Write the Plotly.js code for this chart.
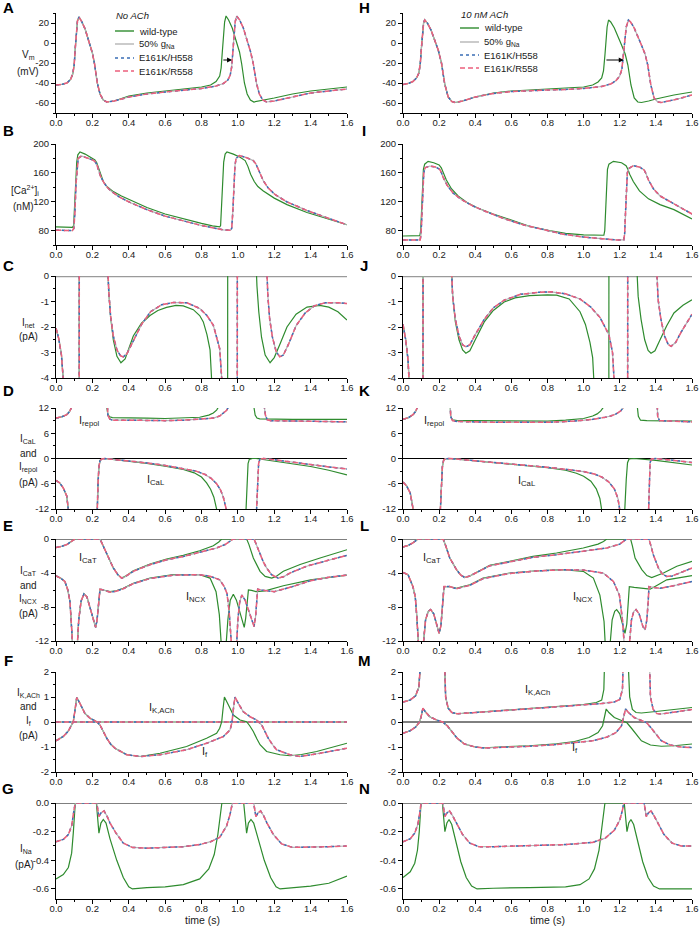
<!DOCTYPE html>
<html>
<head>
<meta charset="utf-8">
<script src="https://cdn.plot.ly/plotly-3.0.1.min.js"></script>
<style>html,body{margin:0;padding:0;background:#fff;}#chart{width:700px;height:935px;}</style>
</head>
<body>
<div id="chart"></div>
<script>
// ---------------- DATA (time s, value) ----------------
// Left column: No ACh ; Right column: 10 nM ACh
// "mut" arrays are shared by 50% gNa, E161K/H558, E161K/R558 (curves overlap)
const seriesNames = ['wild-type', '50% g<sub>Na</sub>', 'E161K/H558', 'E161K/R558'];
const X_TICKS = ['0.0','0.2','0.4','0.6','0.8','1.0','1.2','1.4','1.6'];
const VM_TICKS = ['-60','-40','-20','0','20'];
const CA_TICKS = ['80','120','160','200'];
const INET_TICKS = ['-4','-3','-2','-1','0'];
const D_TICKS = ['-12','-6','0','6','12'];
const E_TICKS = ['-12','-8','-4','0'];
const F_TICKS = ['-2','-1','0','1','2'];
const NA_TICKS = ['-0.6','-0.4','-0.2','0.0'];

// A: Vm (mV), no ACh
const A_wt = [[0,-42],[0.03,-41.5],[0.06,-40],[0.08,-36.5],[0.092,-31],[0.1,-22],[0.106,-5],[0.112,12],[0.118,22],[0.126,26],[0.14,22],[0.16,14],[0.18,3],[0.2,-10],[0.212,-21],[0.227,-40],[0.242,-51],[0.26,-57],[0.279,-59],[0.32,-58],[0.4,-53],[0.5,-50],[0.6,-48],[0.7,-46],[0.8,-44],[0.85,-42],[0.88,-38.5],[0.9,-33],[0.908,-25],[0.914,-10],[0.92,8],[0.927,21],[0.935,27],[0.949,23],[0.969,15],[0.989,4],[1.009,-9],[1.021,-21],[1.036,-40],[1.051,-51],[1.069,-57],[1.088,-59],[1.12,-58],[1.2,-55],[1.3,-51],[1.4,-48],[1.5,-46],[1.6,-44]];
const A_mut = [[0,-42],[0.03,-41.5],[0.06,-40],[0.08,-36.5],[0.092,-31],[0.1,-22],[0.106,-5],[0.112,12],[0.118,22],[0.126,26],[0.14,22],[0.16,14],[0.18,3],[0.2,-10],[0.212,-21],[0.227,-40],[0.242,-51],[0.26,-57],[0.279,-59],[0.32,-58],[0.4,-54],[0.5,-51],[0.6,-49],[0.7,-47],[0.8,-45.5],[0.88,-43],[0.92,-40.5],[0.945,-37],[0.958,-32],[0.966,-24],[0.972,-8],[0.978,9],[0.985,21],[0.993,27],[1.01,23],[1.03,15],[1.05,4],[1.07,-9],[1.085,-21],[1.102,-40],[1.118,-51],[1.137,-57],[1.158,-59],[1.2,-58],[1.3,-54],[1.4,-50],[1.5,-48],[1.6,-46]];
// H: Vm (mV), 10 nM ACh
const H_wt = [[0,-41.5],[0.03,-40.5],[0.055,-38.5],[0.075,-35],[0.088,-30],[0.096,-20],[0.102,-5],[0.108,10],[0.114,20],[0.12,23],[0.135,20],[0.155,13],[0.175,4],[0.195,-7],[0.213,-20],[0.231,-41],[0.25,-54],[0.27,-58.5],[0.29,-59.5],[0.33,-58],[0.4,-54],[0.5,-50],[0.6,-48],[0.7,-47],[0.8,-46.5],[0.9,-45.5],[1.0,-44],[1.05,-42],[1.08,-39],[1.1,-35],[1.11,-28],[1.118,-12],[1.125,5],[1.13,16],[1.138,23],[1.15,21],[1.17,15],[1.19,7],[1.21,-2],[1.23,-11],[1.245,-22],[1.262,-42],[1.28,-55],[1.3,-59],[1.32,-59.5],[1.36,-58],[1.4,-56],[1.5,-52],[1.6,-49]];
const H_mut = [[0,-41.5],[0.03,-40.5],[0.055,-38.5],[0.075,-35],[0.088,-30],[0.096,-20],[0.102,-5],[0.108,10],[0.114,20],[0.12,23],[0.135,20],[0.155,13],[0.175,4],[0.195,-7],[0.213,-20],[0.231,-41],[0.25,-54],[0.27,-58.5],[0.29,-59.5],[0.33,-58],[0.4,-54],[0.5,-50.5],[0.6,-48.5],[0.7,-47.5],[0.8,-47],[0.9,-46.5],[1.0,-45.5],[1.1,-43.5],[1.15,-41],[1.18,-37.5],[1.2,-33],[1.212,-26],[1.22,-12],[1.228,5],[1.236,16],[1.248,23],[1.26,21],[1.28,15],[1.3,7],[1.32,-2],[1.34,-11],[1.355,-22],[1.372,-42],[1.39,-55],[1.41,-59],[1.43,-59.5],[1.47,-58],[1.52,-56],[1.6,-52]];

// B / I: [Ca2+]i (nM)
const B_wt = [[0,85],[0.05,84.5],[0.09,84.5],[0.097,87],[0.102,110],[0.108,150],[0.114,175],[0.12,185],[0.132,189],[0.16,186],[0.19,182],[0.214,178],[0.224,174],[0.233,167],[0.245,157],[0.26,148],[0.28,141],[0.315,134],[0.36,128],[0.41,122],[0.5,112],[0.6,103],[0.7,96],[0.8,90],[0.86,86.5],[0.9,85],[0.905,87],[0.91,110],[0.916,150],[0.922,175],[0.93,186],[0.94,189],[0.975,186],[1.01,182],[1.04,177],[1.055,169],[1.07,158],[1.09,148],[1.11,141],[1.14,135],[1.2,125],[1.27,116],[1.38,105],[1.49,96],[1.6,88]];
const B_mut = [[0,80.5],[0.05,80],[0.09,80],[0.098,83],[0.104,105],[0.11,145],[0.116,170],[0.122,180],[0.14,183.5],[0.17,181],[0.2,178],[0.214,176],[0.225,171],[0.235,163],[0.245,155],[0.264,146],[0.285,139],[0.306,134],[0.352,126],[0.407,119],[0.5,109],[0.6,100],[0.7,93],[0.8,87],[0.88,83],[0.92,81],[0.96,80.5],[0.966,83],[0.972,105],[0.978,145],[0.984,170],[0.99,180],[1.008,184],[1.048,181],[1.085,177],[1.1,172],[1.118,161],[1.14,149],[1.167,139],[1.204,130],[1.268,120],[1.378,108],[1.488,98],[1.6,88]];
const I_wt = [[0,72.5],[0.05,72.5],[0.093,73],[0.098,80],[0.103,110],[0.108,145],[0.113,165],[0.12,172],[0.139,176],[0.17,174],[0.2,171],[0.212,167],[0.222,160],[0.24,150],[0.268,138],[0.305,128],[0.36,118],[0.416,111],[0.5,103],[0.6,94],[0.7,86],[0.81,80],[0.9,76],[1.0,74],[1.09,73],[1.112,73.5],[1.117,80],[1.122,110],[1.127,145],[1.132,165],[1.14,172],[1.165,176],[1.21,174],[1.235,170],[1.245,165],[1.255,158],[1.275,148],[1.309,135],[1.359,124],[1.423,116],[1.5,109],[1.553,102],[1.6,96]];
const I_mut = [[0,67],[0.05,66.5],[0.095,67],[0.1,75],[0.105,105],[0.11,140],[0.115,160],[0.122,167],[0.148,169.5],[0.18,168],[0.203,165],[0.213,160],[0.222,154],[0.244,143],[0.277,132],[0.323,123],[0.388,114],[0.462,106],[0.555,97],[0.665,88],[0.776,81],[0.887,75],[1.0,71],[1.09,68.5],[1.18,67],[1.222,67],[1.227,75],[1.232,105],[1.237,140],[1.242,160],[1.25,166],[1.275,170],[1.31,168],[1.335,164],[1.345,159],[1.359,150],[1.386,138],[1.423,128],[1.479,120],[1.543,111],[1.6,103]];

// C / J: Inet (pA)
const C_wt = [[0,-2.05],[0.015,-2.45],[0.03,-3.1],[0.045,-4],[0.07,-7],[0.126,-40],[0.13,40],[0.28,40],[0.284,0.5],[0.29,-0.6],[0.3,-1.6],[0.315,-2.5],[0.335,-3.15],[0.357,-3.4],[0.38,-3.25],[0.4,-2.85],[0.425,-2.35],[0.47,-1.85],[0.517,-1.55],[0.56,-1.35],[0.608,-1.23],[0.66,-1.15],[0.7,-1.17],[0.755,-1.32],[0.79,-1.55],[0.81,-1.8],[0.83,-2.3],[0.847,-2.9],[0.86,-4],[0.9,-10],[0.942,-40],[0.946,40],[1.098,40],[1.1,0.5],[1.105,-0.4],[1.115,-1.4],[1.13,-2.4],[1.15,-3.1],[1.177,-3.4],[1.2,-3.2],[1.23,-2.7],[1.27,-2.0],[1.32,-1.5],[1.38,-1.22],[1.45,-1.15],[1.5,-1.22],[1.55,-1.4],[1.6,-1.73]];
const C_mut = [[0,-2.05],[0.015,-2.45],[0.03,-3.1],[0.045,-4],[0.07,-7],[0.126,-40],[0.13,40],[0.28,40],[0.284,0.5],[0.29,-0.6],[0.3,-1.55],[0.315,-2.35],[0.335,-2.9],[0.355,-3.13],[0.37,-3.17],[0.39,-3.05],[0.42,-2.6],[0.47,-1.9],[0.52,-1.4],[0.58,-1.13],[0.645,-1.04],[0.72,-1.05],[0.79,-1.27],[0.83,-1.55],[0.865,-1.93],[0.885,-2.4],[0.9,-2.85],[0.911,-4],[0.95,-10],[0.995,-40],[0.999,40],[1.155,40],[1.158,0.5],[1.165,-0.8],[1.175,-1.7],[1.19,-2.4],[1.21,-2.95],[1.23,-3.17],[1.25,-3.1],[1.28,-2.65],[1.32,-1.95],[1.37,-1.45],[1.42,-1.17],[1.48,-1.05],[1.55,-1.05],[1.6,-1.08]];
const J_wt = [[0,-1.9],[0.015,-2.5],[0.028,-3.3],[0.037,-4],[0.06,-8],[0.109,-40],[0.113,40],[0.264,40],[0.268,0.4],[0.275,-0.8],[0.29,-1.8],[0.31,-2.5],[0.33,-2.9],[0.348,-3.03],[0.37,-2.93],[0.4,-2.5],[0.45,-1.8],[0.5,-1.35],[0.56,-1.02],[0.62,-0.86],[0.7,-0.77],[0.8,-0.74],[0.85,-0.75],[0.92,-0.9],[0.98,-1.4],[1.01,-1.9],[1.035,-2.6],[1.05,-3.2],[1.063,-4],[1.1,-10],[1.138,-40],[1.142,40],[1.29,40],[1.294,0.4],[1.302,-0.8],[1.318,-1.7],[1.338,-2.5],[1.357,-2.92],[1.373,-3.03],[1.395,-2.93],[1.42,-2.55],[1.46,-1.95],[1.5,-1.45],[1.55,-1.15],[1.6,-0.93]];
const J_mut = [[0,-1.9],[0.015,-2.5],[0.028,-3.3],[0.037,-4],[0.06,-8],[0.109,-40],[0.113,40],[0.264,40],[0.268,0.4],[0.275,-0.8],[0.29,-1.7],[0.31,-2.35],[0.33,-2.7],[0.348,-2.78],[0.37,-2.7],[0.4,-2.3],[0.45,-1.7],[0.5,-1.25],[0.56,-0.95],[0.65,-0.72],[0.75,-0.64],[0.82,-0.62],[0.9,-0.7],[0.98,-0.9],[1.04,-1.22],[1.09,-1.62],[1.12,-2.0],[1.14,-2.3],[1.16,-3.0],[1.175,-4],[1.2,-8],[1.242,-40],[1.246,40],[1.4,40],[1.404,0.4],[1.412,-0.9],[1.428,-1.7],[1.448,-2.35],[1.468,-2.68],[1.484,-2.76],[1.51,-2.6],[1.54,-2.2],[1.57,-1.85],[1.6,-1.5]];

// D / K: Irepol (upper) and ICaL (lower) (pA)
const D_rep_wt = [[0,9.6],[0.03,9.9],[0.059,10.4],[0.075,11.2],[0.086,12.2],[0.09,20],[0.276,20],[0.28,12],[0.285,10.5],[0.295,9.9],[0.31,9.7],[0.4,9.7],[0.5,9.6],[0.6,9.5],[0.7,9.6],[0.79,9.8],[0.84,10.3],[0.865,10.8],[0.883,11.5],[0.893,12.2],[0.897,20],[1.085,20],[1.089,12],[1.095,10.3],[1.105,9.6],[1.12,9.4],[1.3,9.3],[1.6,9.3]];
const D_rep_mut = [[0,9.6],[0.03,9.9],[0.059,10.4],[0.075,11.2],[0.086,12.2],[0.09,20],[0.276,20],[0.28,12],[0.285,10.3],[0.295,9.4],[0.31,9.1],[0.4,9.1],[0.5,9.0],[0.6,9.0],[0.7,9.1],[0.8,9.3],[0.865,9.6],[0.9,10.1],[0.92,10.7],[0.937,11.4],[0.948,12.2],[0.952,20],[1.142,20],[1.146,12],[1.152,10.2],[1.162,9.2],[1.18,9.0],[1.4,8.8],[1.6,8.7]];
const D_cal_wt = [[0,-5.2],[0.02,-5.8],[0.04,-7.0],[0.059,-8.9],[0.068,-12.2],[0.072,-20],[0.222,-20],[0.226,-12],[0.231,-6],[0.236,-2],[0.242,-0.5],[0.252,-0.1],[0.27,0],[0.3,-0.15],[0.4,-0.6],[0.5,-1.15],[0.6,-1.8],[0.7,-2.6],[0.76,-3.4],[0.8,-4.4],[0.828,-5.8],[0.85,-7.3],[0.868,-9.2],[0.884,-12.2],[0.89,-20],[1.04,-20],[1.045,-12],[1.05,-5],[1.056,-1.2],[1.063,-0.2],[1.08,0],[1.1,0],[1.2,-0.6],[1.3,-1.2],[1.4,-1.9],[1.5,-2.8],[1.6,-3.9]];
const D_cal_mut = [[0,-5.2],[0.02,-5.8],[0.04,-7.0],[0.059,-8.9],[0.068,-12.2],[0.072,-20],[0.222,-20],[0.226,-12],[0.231,-6],[0.236,-2],[0.242,-0.5],[0.252,-0.1],[0.27,0],[0.3,-0.15],[0.4,-0.55],[0.5,-1.05],[0.6,-1.65],[0.7,-2.35],[0.77,-3.0],[0.82,-3.8],[0.855,-4.8],[0.883,-6.0],[0.905,-7.5],[0.92,-9.2],[0.937,-12.2],[0.942,-20],[1.098,-20],[1.103,-12],[1.108,-5],[1.114,-1.2],[1.121,-0.2],[1.14,0],[1.2,-0.3],[1.3,-0.9],[1.4,-1.5],[1.5,-2.0],[1.6,-2.5]];
const K_rep_wt = [[0,9.3],[0.03,9.7],[0.055,10.4],[0.07,11.2],[0.08,12.2],[0.084,20],[0.255,20],[0.259,12],[0.264,10],[0.274,9.2],[0.3,9.0],[0.4,9.0],[0.6,8.9],[0.8,8.9],[0.9,9.1],[1.0,9.5],[1.05,10.1],[1.075,10.6],[1.095,11.3],[1.11,12.2],[1.114,20],[1.294,20],[1.298,12],[1.303,10],[1.315,9.1],[1.35,9.0],[1.6,8.9]];
const K_rep_mut = [[0,9.3],[0.03,9.7],[0.055,10.4],[0.07,11.2],[0.08,12.2],[0.084,20],[0.255,20],[0.259,12],[0.264,10],[0.274,9.0],[0.3,8.8],[0.5,8.6],[0.8,8.6],[0.95,8.9],[1.05,9.3],[1.12,9.8],[1.15,10.1],[1.18,10.6],[1.205,11.3],[1.222,12.2],[1.226,20],[1.401,20],[1.405,12],[1.41,10],[1.42,9.0],[1.5,8.8],[1.6,8.7]];
const K_cal_wt = [[0,-5.6],[0.02,-6.5],[0.04,-8.2],[0.052,-10.5],[0.058,-12.5],[0.062,-20],[0.2,-20],[0.207,-12],[0.213,-6],[0.218,-2],[0.225,-0.4],[0.235,-0.05],[0.26,0],[0.3,-0.15],[0.4,-0.5],[0.5,-0.9],[0.6,-1.3],[0.7,-1.7],[0.8,-2.15],[0.9,-2.8],[0.96,-3.5],[1.0,-4.2],[1.04,-5.4],[1.07,-7.2],[1.09,-9.5],[1.1,-12.2],[1.105,-20],[1.224,-20],[1.228,-12],[1.236,-5],[1.243,-1],[1.252,-0.1],[1.28,0],[1.4,-0.45],[1.5,-0.95],[1.6,-1.55]];
const K_cal_mut = [[0,-5.6],[0.02,-6.5],[0.04,-8.2],[0.052,-10.5],[0.058,-12.5],[0.062,-20],[0.2,-20],[0.207,-12],[0.213,-6],[0.218,-2],[0.225,-0.4],[0.235,-0.05],[0.26,0],[0.3,-0.15],[0.4,-0.5],[0.5,-0.9],[0.6,-1.3],[0.7,-1.7],[0.8,-2.1],[0.9,-2.55],[1.0,-3.1],[1.06,-3.7],[1.1,-4.4],[1.14,-5.6],[1.17,-7.2],[1.19,-9.5],[1.2,-12.2],[1.205,-20],[1.355,-20],[1.36,-12],[1.364,-5],[1.368,-1],[1.375,-0.1],[1.4,0],[1.5,-0.45],[1.6,-0.95]];

// E / L: ICaT (upper) and INCX (lower) (pA)
const E_cat_wt = [[0,-1.0],[0.03,-0.88],[0.06,-0.65],[0.08,-0.4],[0.095,-0.15],[0.104,0],[0.242,0],[0.255,-0.6],[0.279,-1.85],[0.3,-2.8],[0.315,-3.4],[0.34,-4.2],[0.361,-4.6],[0.38,-4.4],[0.425,-3.74],[0.517,-2.95],[0.608,-2.36],[0.7,-1.93],[0.79,-1.38],[0.865,-0.79],[0.895,-0.35],[0.911,0],[1.048,0],[1.06,-0.6],[1.085,-2.24],[1.122,-3.8],[1.15,-4.4],[1.186,-4.6],[1.21,-4.4],[1.25,-3.8],[1.342,-3.0],[1.452,-2.24],[1.6,-1.26]];
const E_cat_mut = [[0,-1.0],[0.03,-0.88],[0.06,-0.65],[0.08,-0.4],[0.095,-0.15],[0.104,0],[0.242,0],[0.255,-0.6],[0.279,-1.85],[0.3,-2.8],[0.315,-3.4],[0.34,-4.2],[0.361,-4.6],[0.38,-4.45],[0.425,-3.8],[0.517,-3.02],[0.608,-2.45],[0.7,-2.05],[0.79,-1.57],[0.883,-1.06],[0.93,-0.65],[0.957,-0.28],[0.975,0],[1.089,0],[1.1,-0.6],[1.122,-1.85],[1.14,-2.7],[1.158,-3.4],[1.185,-4.2],[1.222,-4.6],[1.25,-4.45],[1.287,-4.0],[1.378,-3.2],[1.488,-2.56],[1.6,-1.93]];
const E_ncx_wt = [[0,-4.33],[0.025,-4.6],[0.049,-5.0],[0.065,-6.0],[0.077,-7.4],[0.083,-9.5],[0.087,-12.5],[0.09,-20],[0.113,-20],[0.117,-12.5],[0.125,-9.5],[0.138,-7.3],[0.154,-6.46],[0.17,-6.8],[0.19,-8.2],[0.207,-9.6],[0.218,-10.4],[0.226,-9.5],[0.234,-7.2],[0.242,-5.9],[0.26,-6.0],[0.297,-6.2],[0.33,-6.1],[0.37,-5.8],[0.425,-5.2],[0.517,-4.6],[0.645,-4.2],[0.79,-4.2],[0.847,-4.6],[0.88,-6.2],[0.898,-8.9],[0.905,-12.5],[0.908,-20],[0.932,-20],[0.935,-12.5],[0.945,-9.5],[0.958,-7.2],[0.975,-6.5],[0.992,-7.2],[1.01,-8.5],[1.026,-9.8],[1.035,-10.4],[1.043,-9.3],[1.05,-7.2],[1.058,-6.0],[1.075,-6.05],[1.1,-6.2],[1.15,-6.1],[1.25,-5.5],[1.4,-4.8],[1.6,-4.25]];
const E_ncx_mut = [[0,-4.33],[0.025,-4.6],[0.049,-5.0],[0.065,-6.0],[0.077,-7.4],[0.083,-9.5],[0.087,-12.5],[0.09,-20],[0.113,-20],[0.117,-12.5],[0.125,-9.5],[0.138,-7.3],[0.154,-6.46],[0.17,-6.8],[0.19,-8.2],[0.207,-9.6],[0.218,-10.4],[0.226,-9.5],[0.234,-7.2],[0.242,-5.9],[0.26,-6.0],[0.297,-6.25],[0.33,-6.15],[0.37,-5.85],[0.425,-5.25],[0.517,-4.65],[0.645,-4.25],[0.79,-4.2],[0.85,-4.4],[0.9,-4.8],[0.925,-5.6],[0.94,-6.4],[0.952,-8.5],[0.962,-12.5],[0.966,-20],[0.989,-20],[0.993,-12.5],[1.0,-9.5],[1.01,-7.4],[1.022,-6.6],[1.04,-7.2],[1.06,-8.5],[1.078,-9.8],[1.089,-10.3],[1.097,-9.2],[1.103,-7.2],[1.109,-5.9],[1.13,-6.0],[1.16,-6.1],[1.2,-6.2],[1.3,-5.6],[1.4,-4.9],[1.5,-4.5],[1.6,-4.25]];
const L_cat_wt = [[0,-0.94],[0.03,-0.75],[0.055,-0.45],[0.075,-0.15],[0.083,0],[0.222,0],[0.235,-0.7],[0.259,-2.24],[0.296,-3.6],[0.32,-4.25],[0.342,-4.53],[0.37,-4.35],[0.407,-3.9],[0.48,-3.1],[0.59,-2.64],[0.72,-2.05],[0.85,-1.65],[0.998,-1.06],[1.08,-0.6],[1.11,-0.3],[1.128,0],[1.26,0],[1.27,-0.8],[1.285,-2.24],[1.322,-3.6],[1.35,-4.3],[1.377,-4.53],[1.41,-4.3],[1.442,-4.0],[1.516,-3.2],[1.6,-2.64]];
const L_cat_mut = [[0,-0.94],[0.03,-0.75],[0.055,-0.45],[0.075,-0.15],[0.083,0],[0.222,0],[0.235,-0.7],[0.259,-2.24],[0.296,-3.6],[0.32,-4.25],[0.342,-4.53],[0.37,-4.35],[0.407,-3.95],[0.48,-3.15],[0.59,-2.7],[0.72,-2.15],[0.85,-1.85],[0.998,-1.46],[1.128,-1.06],[1.2,-0.6],[1.225,-0.25],[1.238,0],[1.362,0],[1.372,-0.7],[1.386,-1.85],[1.414,-3.4],[1.435,-4.1],[1.46,-4.4],[1.49,-4.35],[1.516,-4.13],[1.56,-3.8],[1.6,-3.42]];
const L_ncx_wt = [[0,-3.94],[0.028,-4.2],[0.055,-5.6],[0.068,-6.8],[0.076,-9.0],[0.081,-12.5],[0.084,-20],[0.108,-20],[0.112,-12.5],[0.125,-9.5],[0.14,-8.5],[0.153,-8.3],[0.17,-8.8],[0.19,-10.3],[0.2,-11.1],[0.21,-10.2],[0.22,-7.5],[0.227,-5.6],[0.259,-5.6],[0.296,-5.8],[0.33,-5.6],[0.37,-5.4],[0.444,-4.6],[0.59,-4.0],[0.74,-3.74],[0.887,-3.6],[0.998,-3.8],[1.054,-4.6],[1.09,-6.6],[1.113,-9.7],[1.12,-12.5],[1.123,-20],[1.142,-20],[1.146,-12.5],[1.158,-9.5],[1.172,-8.5],[1.183,-8.3],[1.2,-8.8],[1.218,-10.4],[1.229,-11.1],[1.239,-10],[1.247,-7.5],[1.253,-5.6],[1.28,-5.7],[1.312,-5.8],[1.368,-5.9],[1.41,-5.4],[1.46,-4.8],[1.6,-4.3]];
const L_ncx_mut = [[0,-3.94],[0.028,-4.2],[0.055,-5.6],[0.068,-6.8],[0.076,-9.0],[0.081,-12.5],[0.084,-20],[0.108,-20],[0.112,-12.5],[0.125,-9.5],[0.14,-8.5],[0.153,-8.3],[0.17,-8.8],[0.19,-10.3],[0.2,-11.1],[0.21,-10.2],[0.22,-7.5],[0.227,-5.6],[0.259,-5.6],[0.296,-5.85],[0.33,-5.65],[0.37,-5.45],[0.444,-4.65],[0.59,-4.05],[0.74,-3.76],[0.887,-3.62],[0.998,-3.66],[1.109,-4.0],[1.165,-5.0],[1.198,-6.6],[1.216,-9.7],[1.222,-12.5],[1.225,-20],[1.249,-20],[1.253,-12.5],[1.265,-9.5],[1.278,-8.5],[1.29,-8.3],[1.307,-8.8],[1.328,-10.3],[1.34,-10.7],[1.35,-9.5],[1.357,-7.5],[1.362,-5.6],[1.39,-5.7],[1.423,-5.8],[1.497,-5.5],[1.6,-5.0]];

// F / M: IK,ACh and If (pA)
const F_k_wt = [[0,0],[1.6,0]];
const F_k_mut = [[0,0],[1.6,0]];
const F_f_wt = [[0,-0.75],[0.04,-0.58],[0.068,-0.36],[0.086,-0.12],[0.095,0.01],[0.105,0.5],[0.114,0.98],[0.132,0.74],[0.159,0.34],[0.187,0.15],[0.224,0.01],[0.242,-0.12],[0.26,-0.38],[0.279,-0.65],[0.3,-0.88],[0.324,-1.05],[0.389,-1.31],[0.462,-1.38],[0.572,-1.25],[0.718,-0.98],[0.828,-0.65],[0.883,-0.45],[0.9,-0.25],[0.911,0],[0.918,0.5],[0.926,1.0],[0.948,0.68],[0.975,0.28],[1.012,0.08],[1.048,0.01],[1.065,-0.15],[1.085,-0.38],[1.105,-0.68],[1.122,-0.91],[1.158,-1.18],[1.232,-1.31],[1.287,-1.35],[1.35,-1.3],[1.433,-1.18],[1.52,-1.02],[1.6,-0.85]];
const F_f_mut = [[0,-0.75],[0.04,-0.58],[0.068,-0.36],[0.086,-0.12],[0.095,0.01],[0.105,0.5],[0.114,0.98],[0.132,0.74],[0.159,0.34],[0.187,0.15],[0.224,0.01],[0.242,-0.12],[0.26,-0.38],[0.279,-0.65],[0.3,-0.88],[0.324,-1.05],[0.389,-1.31],[0.462,-1.38],[0.572,-1.31],[0.718,-1.11],[0.828,-0.85],[0.92,-0.58],[0.957,-0.32],[0.968,0],[0.975,0.5],[0.984,1.0],[1.003,0.74],[1.03,0.41],[1.067,0.21],[1.103,0.08],[1.131,-0.12],[1.15,-0.4],[1.167,-0.65],[1.19,-0.9],[1.213,-1.11],[1.287,-1.31],[1.342,-1.38],[1.452,-1.25],[1.6,-1.05]];
const M_k_wt = [[0,0.8],[0.04,0.88],[0.07,1.05],[0.088,1.4],[0.098,2.5],[0.105,5],[0.22,5],[0.228,2.5],[0.236,1.0],[0.25,0.55],[0.27,0.38],[0.3,0.33],[0.4,0.38],[0.6,0.5],[0.8,0.6],[1.0,0.7],[1.07,0.78],[1.1,0.88],[1.112,1.3],[1.12,2.5],[1.125,5],[1.24,5],[1.246,2.5],[1.255,1.0],[1.27,0.5],[1.29,0.38],[1.32,0.36],[1.4,0.42],[1.5,0.5],[1.6,0.58]];
const M_k_mut = [[0,0.8],[0.04,0.88],[0.07,1.05],[0.088,1.4],[0.098,2.5],[0.105,5],[0.22,5],[0.228,2.5],[0.236,1.0],[0.25,0.55],[0.27,0.38],[0.3,0.33],[0.4,0.37],[0.6,0.48],[0.8,0.58],[1.0,0.68],[1.1,0.74],[1.17,0.8],[1.2,0.9],[1.215,1.3],[1.222,2.5],[1.228,5],[1.355,5],[1.362,2.5],[1.37,1.0],[1.385,0.5],[1.405,0.34],[1.43,0.32],[1.5,0.4],[1.6,0.5]];
const M_f_wt = [[0,-0.45],[0.04,-0.35],[0.07,-0.2],[0.09,-0.02],[0.1,0.2],[0.11,0.55],[0.125,0.4],[0.15,0.2],[0.19,0.07],[0.22,0.0],[0.245,-0.15],[0.27,-0.4],[0.3,-0.65],[0.34,-0.88],[0.4,-1.0],[0.45,-1.03],[0.55,-1.0],[0.7,-0.95],[0.85,-0.87],[0.95,-0.78],[1.03,-0.62],[1.08,-0.42],[1.105,-0.15],[1.115,0.2],[1.125,0.52],[1.14,0.38],[1.17,0.18],[1.21,0.06],[1.24,-0.03],[1.265,-0.25],[1.29,-0.5],[1.32,-0.75],[1.37,-0.92],[1.43,-0.97],[1.5,-0.95],[1.6,-0.88]];
const M_f_mut = [[0,-0.45],[0.04,-0.35],[0.07,-0.2],[0.09,-0.02],[0.1,0.2],[0.11,0.55],[0.125,0.4],[0.15,0.2],[0.19,0.07],[0.22,0.0],[0.245,-0.15],[0.27,-0.4],[0.3,-0.65],[0.34,-0.88],[0.4,-1.0],[0.45,-1.04],[0.55,-1.02],[0.7,-0.97],[0.85,-0.9],[0.95,-0.84],[1.05,-0.75],[1.13,-0.6],[1.18,-0.42],[1.21,-0.15],[1.22,0.2],[1.232,0.52],[1.248,0.38],[1.28,0.18],[1.32,0.06],[1.35,-0.03],[1.375,-0.25],[1.4,-0.5],[1.43,-0.75],[1.48,-0.92],[1.54,-1.0],[1.6,-1.02]];

// G / N: INa (pA)
const G_wt = [[0,-0.53],[0.04,-0.5],[0.068,-0.45],[0.086,-0.35],[0.095,-0.21],[0.103,-0.01],[0.106,0],[0.222,0],[0.229,-0.115],[0.236,-0.21],[0.247,-0.14],[0.26,-0.115],[0.275,-0.14],[0.297,-0.25],[0.334,-0.4],[0.37,-0.52],[0.4,-0.585],[0.42,-0.6],[0.5,-0.59],[0.6,-0.585],[0.7,-0.57],[0.79,-0.53],[0.84,-0.46],[0.87,-0.36],[0.89,-0.22],[0.905,-0.08],[0.912,0],[1.032,0],[1.04,-0.115],[1.048,-0.21],[1.058,-0.14],[1.072,-0.115],[1.087,-0.14],[1.11,-0.25],[1.145,-0.4],[1.18,-0.52],[1.21,-0.585],[1.232,-0.6],[1.3,-0.59],[1.4,-0.58],[1.5,-0.56],[1.6,-0.51]];
const G_mut = [[0,-0.27],[0.04,-0.254],[0.068,-0.22],[0.086,-0.16],[0.099,-0.05],[0.106,0],[0.224,0],[0.23,-0.06],[0.236,-0.095],[0.247,-0.07],[0.264,-0.055],[0.28,-0.09],[0.297,-0.14],[0.33,-0.21],[0.37,-0.28],[0.42,-0.31],[0.5,-0.315],[0.6,-0.31],[0.7,-0.305],[0.79,-0.29],[0.85,-0.27],[0.9,-0.24],[0.938,-0.16],[0.957,-0.08],[0.97,0],[1.087,0],[1.093,-0.06],[1.099,-0.095],[1.11,-0.07],[1.125,-0.055],[1.142,-0.09],[1.16,-0.14],[1.195,-0.22],[1.24,-0.285],[1.3,-0.31],[1.4,-0.31],[1.5,-0.305],[1.6,-0.3]];
const N_wt = [[0,-0.52],[0.04,-0.48],[0.065,-0.42],[0.08,-0.33],[0.09,-0.2],[0.097,-0.06],[0.1,0],[0.218,0],[0.225,-0.115],[0.232,-0.2],[0.243,-0.14],[0.255,-0.115],[0.27,-0.15],[0.29,-0.26],[0.32,-0.41],[0.35,-0.52],[0.38,-0.58],[0.41,-0.6],[0.5,-0.595],[0.7,-0.59],[0.9,-0.585],[0.98,-0.57],[1.03,-0.53],[1.06,-0.46],[1.085,-0.33],[1.1,-0.18],[1.112,-0.05],[1.118,0],[1.225,0],[1.232,-0.115],[1.24,-0.2],[1.25,-0.14],[1.262,-0.115],[1.277,-0.15],[1.297,-0.26],[1.327,-0.41],[1.357,-0.52],[1.387,-0.58],[1.42,-0.6],[1.5,-0.6],[1.6,-0.6]];
const N_mut = [[0,-0.27],[0.04,-0.25],[0.065,-0.21],[0.082,-0.15],[0.094,-0.06],[0.1,0],[0.22,0],[0.226,-0.06],[0.232,-0.095],[0.243,-0.07],[0.258,-0.055],[0.275,-0.09],[0.295,-0.14],[0.33,-0.22],[0.37,-0.28],[0.42,-0.305],[0.5,-0.305],[0.7,-0.3],[0.9,-0.29],[1.05,-0.275],[1.12,-0.245],[1.17,-0.19],[1.2,-0.12],[1.215,-0.05],[1.222,0],[1.335,0],[1.341,-0.06],[1.347,-0.095],[1.358,-0.07],[1.373,-0.055],[1.39,-0.09],[1.41,-0.14],[1.445,-0.22],[1.49,-0.28],[1.54,-0.3],[1.6,-0.3]];

// ---------------- LAYOUT / STYLE ----------------
const W = 700, H = 935;
const FONT = '"Liberation Sans", Arial, Helvetica, sans-serif';
const px = x => x / W;
const py = y => 1 - y / H;

const rowsPx = [[13,113],[144,245],[276,378],[408,509],[539,641],[672,772],[803,899]];
const colsPx = [[56,347],[403,692]];

const panels = [
  {letter:'A', range:[-70,30], ticks:VM_TICKS, minor:10, groups:[[A_wt,A_mut]]},
  {letter:'B', range:[60,200], ticks:CA_TICKS, minor:20, groups:[[B_wt,B_mut]]},
  {letter:'C', range:[-4,0], ticks:INET_TICKS, minor:0.5, groups:[[C_wt,C_mut]], zero:'gray'},
  {letter:'D', range:[-12,12], ticks:D_TICKS, minor:3, groups:[[D_rep_wt,D_rep_mut],[D_cal_wt,D_cal_mut]], zero:'black'},
  {letter:'E', range:[-12,0], ticks:E_TICKS, minor:2, groups:[[E_cat_wt,E_cat_mut],[E_ncx_wt,E_ncx_mut]], zero:'black'},
  {letter:'F', range:[-2,2], ticks:F_TICKS, minor:0.5, groups:[[F_k_wt,F_k_mut],[F_f_wt,F_f_mut]]},
  {letter:'G', range:[-0.67,0], ticks:NA_TICKS, minor:0.1, groups:[[G_wt,G_mut]], zero:'black'},
  {letter:'H', range:[-70,30], ticks:VM_TICKS, minor:10, groups:[[H_wt,H_mut]]},
  {letter:'I', range:[60,200], ticks:CA_TICKS, minor:20, groups:[[I_wt,I_mut]]},
  {letter:'J', range:[-4,0], ticks:INET_TICKS, minor:0.5, groups:[[J_wt,J_mut]], zero:'gray'},
  {letter:'K', range:[-12,12], ticks:D_TICKS, minor:3, groups:[[K_rep_wt,K_rep_mut],[K_cal_wt,K_cal_mut]], zero:'black'},
  {letter:'L', range:[-12,0], ticks:E_TICKS, minor:2, groups:[[L_cat_wt,L_cat_mut],[L_ncx_wt,L_ncx_mut]], zero:'black'},
  {letter:'M', range:[-2,2], ticks:F_TICKS, minor:0.5, groups:[[M_k_wt,M_k_mut],[M_f_wt,M_f_mut]], zero:'black'},
  {letter:'N', range:[-0.67,0], ticks:NA_TICKS, minor:0.1, groups:[[N_wt,N_mut]], zero:'black'}
];

const STY = [
  {color:'#2e8b2e', width:1.2, dash:'solid'},
  {color:'#b5b5b5', width:1.2, dash:'solid'},
  {color:'#3a6db5', width:1.5, dash:'dot'},
  {color:'#ec5f7c', width:1.5, dash:'5px,3px'}
];

const TICKFONT = {family: FONT, size: 9.5, color: '#1a1a1a'};
const traces = [];
const layout = {
  width: W, height: H,
  margin: {l:0, r:0, t:0, b:0},
  paper_bgcolor: '#fff', plot_bgcolor: 'rgba(0,0,0,0)',
  font: {family: FONT, size: 10, color: '#1a1a1a'},
  showlegend: false,
  shapes: [], annotations: []
};

panels.forEach((p, i) => {
  const n = i + 1;
  const col = i < 7 ? 0 : 1;
  const row = i % 7;
  const xs = n === 1 ? 'x' : 'x' + n;
  const ys = n === 1 ? 'y' : 'y' + n;
  const [top, bot] = rowsPx[row];
  const [l, r] = colsPx[col];
  const axBase = {
    showline: true, linecolor: '#000', linewidth: 1, mirror: false,
    ticks: 'outside', ticklen: 4, tickwidth: 1, tickcolor: '#000',
    showgrid: false, zeroline: false, fixedrange: true, tickfont: TICKFONT
  };
  layout['xaxis' + (n === 1 ? '' : n)] = Object.assign({}, axBase, {
    domain: [px(l), px(r)], anchor: ys, range: [0, 1.6],
    tickmode: 'array', tickvals: X_TICKS.map(Number), ticktext: X_TICKS, ticklabelstandoff: -3,
    minor: {dtick: 0.1, tick0: 0, ticklen: 2, ticks: 'outside', tickcolor: '#000', showgrid: false}
  });
  layout['yaxis' + (n === 1 ? '' : n)] = Object.assign({}, axBase, {
    domain: [py(bot), py(top)], anchor: xs, range: p.range,
    tickmode: 'array', tickvals: p.ticks.map(Number), ticktext: p.ticks,
    minor: {dtick: p.minor, tick0: 0, ticklen: 2, ticks: 'outside', tickcolor: '#000', showgrid: false}
  });
  if (p.zero) {
    layout.shapes.push({type:'line', layer:'below', xref: xs + ' domain', yref: ys, x0:0, x1:1, y0:0, y1:0,
      line: p.zero === 'gray' ? {color:'#9a9a9a', width:2.5} : {color:'#000', width:1}});
  }
  p.groups.forEach(g => {
    const [wt, mut] = g;
    [wt, mut, mut, mut].forEach((arr, k) => {
      traces.push({
        type: 'scatter', mode: 'lines', xaxis: xs, yaxis: ys,
        x: arr.map(q => q[0]), y: arr.map(q => q[1]),
        name: seriesNames[k], hoverinfo: 'skip',
        line: {color: STY[k].color, width: STY[k].width, dash: STY[k].dash}
      });
    });
  });
  const letterX = col === 0 ? 8 : 364;
  const letterY = [8, 130, 266, 390, 525, 660, 788][row];
  layout.annotations.push({xref:'paper', yref:'paper', x:px(letterX), y:py(letterY), text:'<b>' + p.letter + '</b>',
    showarrow:false, xanchor:'center', yanchor:'middle', font:{family:FONT, size:15, color:'#000'}});
});

// y-axis titles (left column), one annotation per line: [text, x, y]
const yTitleLines = [
  ['V<sub>m</sub>', 28, 55], ['(mV)', 28, 71],
  ['[Ca<sup>2+</sup>]<sub>i</sub>', 25, 190], ['(nM)', 23, 206],
  ['I<sub>net</sub>', 28, 323], ['(pA)', 28, 337],
  ['I<sub>CaL</sub>', 28, 439], ['and', 28, 453], ['I<sub>repol</sub>', 28, 468], ['(pA)', 28, 482],
  ['I<sub>CaT</sub>', 28, 571], ['and', 28, 585], ['I<sub>NCX</sub>', 28, 599], ['(pA)', 28, 613],
  ['I<sub>K,ACh</sub>', 28, 693], ['and', 28, 706], ['I<sub>f</sub>', 28, 721], ['(pA)', 28, 735],
  ['I<sub>Na</sub>', 26, 849], ['(pA)', 24, 864]
];
yTitleLines.forEach(([t, x, y]) => layout.annotations.push({xref:'paper', yref:'paper', x:px(x), y:py(y), text:t,
  showarrow:false, xanchor:'center', yanchor:'middle', align:'center', font:{family:FONT, size:10, color:'#1a1a1a'}}));

// in-panel current labels
const inLabels = [
  ['I<sub>repol</sub>', 89, 421], ['I<sub>CaL</sub>', 156, 480],
  ['I<sub>CaT</sub>', 88, 558], ['I<sub>NCX</sub>', 195, 597],
  ['I<sub>K,ACh</sub>', 161, 708], ['I<sub>f</sub>', 205, 752],
  ['I<sub>repol</sub>', 434, 421], ['I<sub>CaL</sub>', 527, 481],
  ['I<sub>CaT</sub>', 432, 558], ['I<sub>NCX</sub>', 582, 597],
  ['I<sub>K,ACh</sub>', 537, 690], ['I<sub>f</sub>', 575, 748]
];
inLabels.forEach(([t, x, y]) => layout.annotations.push({xref:'paper', yref:'paper', x:px(x), y:py(y), text:t,
  showarrow:false, xanchor:'center', yanchor:'middle', font:{family:FONT, size:11, color:'#1a1a1a'}}));

// x-axis titles
[[202, 920], [547, 920]].forEach(([x, y]) => layout.annotations.push({xref:'paper', yref:'paper', x:px(x), y:py(y),
  text:'time (s)', showarrow:false, xanchor:'center', yanchor:'middle', font:{family:FONT, size:10.5, color:'#1a1a1a'}}));

// arrows (shift of second beat)
layout.annotations.push({xref:'x', yref:'y', axref:'x', ayref:'y', x:0.968, y:-17, ax:0.912, ay:-17, text:'',
  showarrow:true, arrowhead:2, arrowsize:1, arrowwidth:1, arrowcolor:'#000'});
layout.annotations.push({xref:'x8', yref:'y8', axref:'x8', ayref:'y8', x:1.222, y:-17, ax:1.118, ay:-17, text:'',
  showarrow:true, arrowhead:2, arrowsize:1, arrowwidth:1, arrowcolor:'#000'});

// legends (manual, inside A and H)
function addLegend(title, x0, titleY, ys) {
  layout.annotations.push({xref:'paper', yref:'paper', x:px(x0 - 1), y:py(titleY), text:'<i>' + title + '</i>',
    showarrow:false, xanchor:'left', yanchor:'middle', font:{family:FONT, size:9.5, color:'#1a1a1a'}});
  ys.forEach((y, k) => {
    layout.shapes.push({type:'line', xref:'paper', yref:'paper', x0:px(x0), x1:px(x0 + 19), y0:py(y), y1:py(y),
      line:{color:STY[k].color, width:STY[k].width + 0.2, dash:STY[k].dash}});
    layout.annotations.push({xref:'paper', yref:'paper', x:px(x0 + 22), y:py(y), text:seriesNames[k],
      showarrow:false, xanchor:'left', yanchor:'middle', font:{family:FONT, size:9.5, color:'#1a1a1a'}});
  });
}
addLegend('No ACh', 115, 16, [31, 44, 58, 71]);
addLegend('10 nM ACh', 460, 15, [28, 42, 55, 68]);

Plotly.newPlot('chart', traces, layout, {staticPlot: true, displayModeBar: false});
</script>
</body>
</html>
